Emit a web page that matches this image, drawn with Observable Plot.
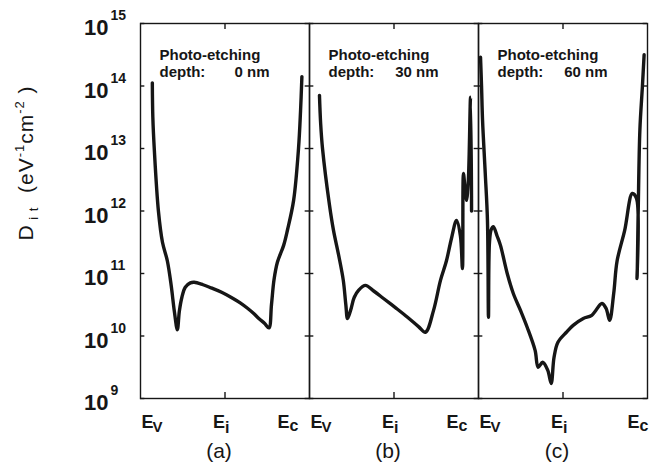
<!DOCTYPE html>
<html>
<head>
<meta charset="utf-8">
<script src="https://cdn.jsdelivr.net/npm/d3@7"></script>
<script src="https://cdn.jsdelivr.net/npm/@observablehq/plot@0.6"></script>
<style>
  html, body { margin: 0; padding: 0; background: #fff; }
  #chart svg { display: block; }
  #chart svg g[aria-label="annotation"] text { letter-spacing: 0.9px; }
</style>
</head>
<body>
<div id="chart"></div>
<script>
// ---- data (energy position: 0 = Ev, 0.5 = Ei, 1 = Ec ; values are log10 Dit) ----
const panels = ["a", "b", "c"];
const depthLabels = ["0 nm", "30 nm", "60 nm"];
const yTicks = [1e9, 1e10, 1e11, 1e12, 1e13, 1e14, 1e15];
const yExponents = ["9", "10", "11", "12", "13", "14", "15"];

const aE = [0.07, 0.073, 0.082, 0.106, 0.13, 0.159, 0.182, 0.2, 0.218, 0.23, 0.245, 0.265, 0.295, 0.318, 0.37, 0.418, 0.48, 0.535, 0.59, 0.635, 0.67, 0.7, 0.735, 0.76, 0.775, 0.79, 0.81, 0.847, 0.87, 0.906, 0.935, 0.947, 0.955];
const aLogD = [14.05, 13.5, 12.97, 12.0, 11.5, 11.2, 10.8, 10.4, 10.1, 10.4, 10.62, 10.78, 10.85, 10.86, 10.82, 10.77, 10.7, 10.62, 10.53, 10.44, 10.36, 10.28, 10.2, 10.13, 10.5, 10.9, 11.18, 11.45, 11.7, 12.17, 13.0, 13.6, 14.15];

const bE = [0.059, 0.066, 0.077, 0.118, 0.142, 0.172, 0.2, 0.215, 0.225, 0.243, 0.265, 0.29, 0.331, 0.38, 0.438, 0.51, 0.58, 0.645, 0.686, 0.734, 0.775, 0.81, 0.84, 0.87, 0.893, 0.905, 0.911, 0.922, 0.929, 0.94, 0.953, 0.959];
const bLogD = [13.85, 13.4, 13.0, 12.1, 11.69, 11.3, 10.89, 10.5, 10.28, 10.41, 10.62, 10.73, 10.81, 10.72, 10.6, 10.45, 10.3, 10.15, 10.06, 10.41, 10.89, 11.2, 11.56, 11.85, 11.6, 11.08, 12.6, 12.3, 12.17, 12.5, 13.82, 12.0];

const cE = [0.012, 0.018, 0.024, 0.04, 0.053, 0.059, 0.065, 0.075, 0.088, 0.11, 0.13, 0.17, 0.206, 0.25, 0.288, 0.335, 0.353, 0.38, 0.41, 0.43, 0.447, 0.47, 0.52, 0.56, 0.62, 0.67, 0.73, 0.755, 0.776, 0.8, 0.82, 0.865, 0.91, 0.935, 0.938, 0.945, 0.955, 0.97, 0.98];
const cLogD = [14.46, 14.0, 13.45, 12.6, 11.85, 10.3, 11.5, 11.7, 11.75, 11.6, 11.45, 11.0, 10.68, 10.4, 10.14, 9.77, 9.5, 9.58, 9.45, 9.24, 9.66, 9.9, 10.06, 10.17, 10.28, 10.33, 10.52, 10.44, 10.25, 10.68, 11.2, 11.69, 12.28, 12.2, 10.92, 12.0, 13.3, 14.0, 14.5];

// ---- build table ----
const series = [[aE, aLogD], [bE, bLogD], [cE, cLogD]];
const rows = [];
series.forEach(([E, L], i) => E.forEach((e, j) => rows.push({panel: panels[i], e, d: Math.pow(10, L[j])})));
const panelInfo = panels.map((p, i) => ({panel: p, depth: depthLabels[i]}));
// pad the depth value so values right-align (figure space = digit width)
const annot = d => "Photo-etching\ndepth:" + "\u00A0".repeat(5) + (d.depth.length < 5 ? "\u2007" : "") + d.depth;

// ---- layout ----
const W = 661, H = 474, mL = 139, mR = 13, mT = 23, mB = 76;
const fw = (W - mL - mR) / 3, ph = H - mT - mB;
const ink = "#161616";
const font = "'Liberation Sans', Arial, Helvetica, sans-serif";

const plot = Plot.plot({
  width: W, height: H,
  marginLeft: mL, marginRight: mR, marginTop: mT, marginBottom: mB,
  style: {fontFamily: font, color: ink, background: "#fff"},
  fx: {domain: panels, padding: 0, axis: null},
  x: {domain: [0, 1], axis: null},
  y: {type: "log", domain: [1e9, 1e15], axis: null},
  marks: [
    Plot.frame({stroke: ink, strokeWidth: 1.4}),
    // inward y ticks on left and right edges of each panel
    Plot.tickY(yTicks, {y: d => d, insetRight: fw - 5, stroke: ink, strokeWidth: 1.4}),
    Plot.tickY(yTicks, {y: d => d, insetLeft: fw - 5, stroke: ink, strokeWidth: 1.4}),
    // Ei ticks bottom and top
    Plot.tickX([0.5], {x: d => d, insetTop: ph - 6, stroke: ink, strokeWidth: 1.4}),
    Plot.tickX([0.5], {x: d => d, insetBottom: ph - 6, stroke: ink, strokeWidth: 1.4}),
    // curves
    Plot.line(rows, {x: "e", y: "d", fx: "panel", curve: "catmull-rom", stroke: ink, strokeWidth: 3.4, strokeLinejoin: "round", strokeLinecap: "round"}),
    // panel annotations
    Plot.text(panelInfo, {ariaLabel: "annotation", fx: "panel", frameAnchor: "top-left", text: annot, lineHeight: 1.14, dx: 19, dy: 24, lineAnchor: "top", textAnchor: "start", fontSize: 15, fontWeight: "bold", fill: ink}),
    // y tick labels (first panel only)
    Plot.text(yTicks, {fx: () => "a", y: d => d, frameAnchor: "left", text: () => "10", dx: -32, dy: -4, lineAnchor: "top", textAnchor: "end", fontSize: 22, fontWeight: "bold", fill: ink}),
    Plot.text(yTicks, {fx: () => "a", y: d => d, frameAnchor: "left", text: (d, i) => yExponents[i], dx: -30, dy: -13, lineAnchor: "top", textAnchor: "start", fontSize: 14, fontWeight: "bold", fill: ink}),
    // x labels: Ev, Ei, Ec
    Plot.text(panelInfo, {fx: "panel", x: () => 0, frameAnchor: "bottom", text: () => "E", dx: 1, dy: 17, lineAnchor: "top", textAnchor: "start", fontSize: 18, fontWeight: "bold", fill: ink}),
    Plot.text(panelInfo, {fx: "panel", x: () => 0, frameAnchor: "bottom", text: () => "V", dx: 12, dy: 23, lineAnchor: "top", textAnchor: "start", fontSize: 15, fontWeight: "bold", fill: ink}),
    Plot.text(panelInfo, {fx: "panel", x: () => 0.5, frameAnchor: "bottom", text: () => "E", dx: -12, dy: 17, lineAnchor: "top", textAnchor: "start", fontSize: 18, fontWeight: "bold", fill: ink}),
    Plot.text(panelInfo, {fx: "panel", x: () => 0.5, frameAnchor: "bottom", text: () => "i", dx: 0, dy: 23, lineAnchor: "top", textAnchor: "start", fontSize: 16, fontWeight: "bold", fill: ink}),
    Plot.text(panelInfo.slice(0, 2), {fx: "panel", x: () => 1, frameAnchor: "bottom", text: () => "E", dx: -32, dy: 17, lineAnchor: "top", textAnchor: "start", fontSize: 18, fontWeight: "bold", fill: ink}),
    Plot.text(panelInfo.slice(0, 2), {fx: "panel", x: () => 1, frameAnchor: "bottom", text: () => "c", dx: -20, dy: 21, lineAnchor: "top", textAnchor: "start", fontSize: 16, fontWeight: "bold", fill: ink}),
    Plot.text(panelInfo.slice(2), {fx: "panel", x: () => 1, frameAnchor: "bottom", text: () => "E", dx: -20, dy: 17, lineAnchor: "top", textAnchor: "start", fontSize: 18, fontWeight: "bold", fill: ink}),
    Plot.text(panelInfo.slice(2), {fx: "panel", x: () => 1, frameAnchor: "bottom", text: () => "c", dx: -8, dy: 21, lineAnchor: "top", textAnchor: "start", fontSize: 16, fontWeight: "bold", fill: ink}),
    // panel letters
    Plot.text(panelInfo, {fx: "panel", x: () => 0.5, frameAnchor: "bottom", text: d => `(${d.panel})`, dx: -6, dy: 45, lineAnchor: "top", textAnchor: "middle", fontSize: 21, fill: ink})
  ]
});

document.getElementById("chart").appendChild(plot);

// y-axis title with subscript / superscripts
const svg = d3.select(plot);
const t = svg.append("text")
  .attr("transform", "translate(33,163) rotate(-90)")
  .attr("text-anchor", "middle")
  .attr("font-family", font)
  .attr("font-size", 21)
  .attr("letter-spacing", 1)
  .attr("fill", ink);
t.append("tspan").text("D");
t.append("tspan").attr("font-size", 13).attr("dy", 5).text(" i t");
t.append("tspan").attr("dy", -5).text("\u00A0\u00A0(eV");
t.append("tspan").attr("font-size", 13).attr("dy", -9).text("-1");
t.append("tspan").attr("dy", 9).text("cm");
t.append("tspan").attr("font-size", 13).attr("dy", -9).text("-2");
t.append("tspan").attr("dy", 9).text(" )");
</script>
</body>
</html>
